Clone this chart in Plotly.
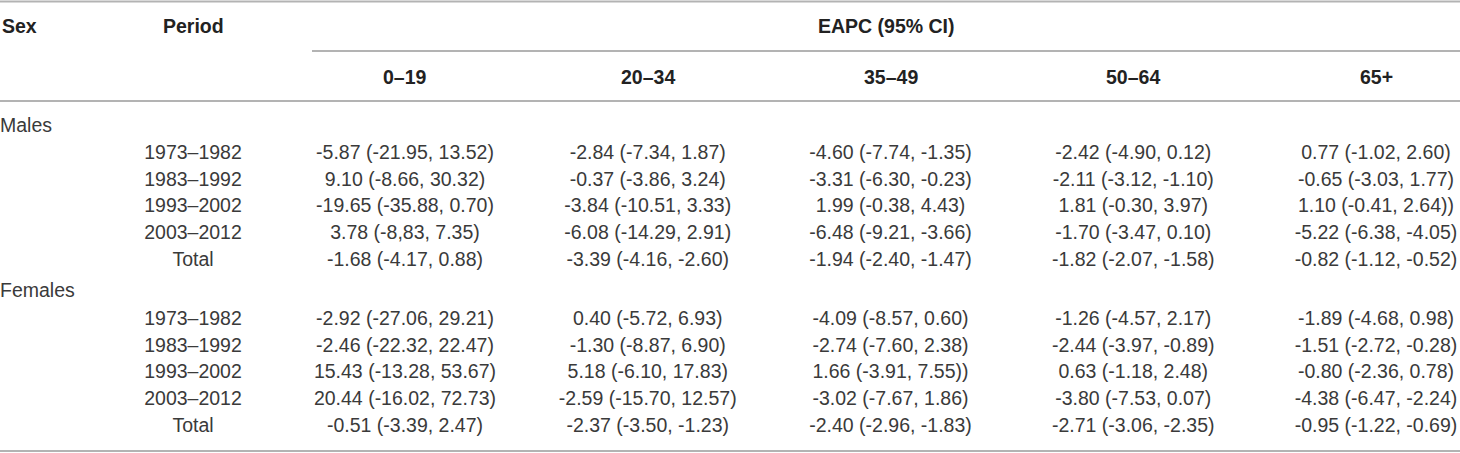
import plotly.graph_objects as go

# ---------------------------------------------------------------
# Table data: EAPC (95% CI) by sex, period and age group
# ---------------------------------------------------------------
sexes = ["Males", "Females"]
periods = ["1973–1982", "1983–1992", "1993–2002", "2003–2012", "Total"]
age_groups = ["0–19", "20–34", "35–49", "50–64", "65+"]

males_0_19 = ["-5.87 (-21.95, 13.52)", "9.10 (-8.66, 30.32)", "-19.65 (-35.88, 0.70)",
              "3.78 (-8,83, 7.35)", "-1.68 (-4.17, 0.88)"]
males_20_34 = ["-2.84 (-7.34, 1.87)", "-0.37 (-3.86, 3.24)", "-3.84 (-10.51, 3.33)",
               "-6.08 (-14.29, 2.91)", "-3.39 (-4.16, -2.60)"]
males_35_49 = ["-4.60 (-7.74, -1.35)", "-3.31 (-6.30, -0.23)", "1.99 (-0.38, 4.43)",
               "-6.48 (-9.21, -3.66)", "-1.94 (-2.40, -1.47)"]
males_50_64 = ["-2.42 (-4.90, 0.12)", "-2.11 (-3.12, -1.10)", "1.81 (-0.30, 3.97)",
               "-1.70 (-3.47, 0.10)", "-1.82 (-2.07, -1.58)"]
males_65 = ["0.77 (-1.02, 2.60)", "-0.65 (-3.03, 1.77)", "1.10 (-0.41, 2.64))",
            "-5.22 (-6.38, -4.05)", "-0.82 (-1.12, -0.52)"]

females_0_19 = ["-2.92 (-27.06, 29.21)", "-2.46 (-22.32, 22.47)", "15.43 (-13.28, 53.67)",
                "20.44 (-16.02, 72.73)", "-0.51 (-3.39, 2.47)"]
females_20_34 = ["0.40 (-5.72, 6.93)", "-1.30 (-8.87, 6.90)", "5.18 (-6.10, 17.83)",
                 "-2.59 (-15.70, 12.57)", "-2.37 (-3.50, -1.23)"]
females_35_49 = ["-4.09 (-8.57, 0.60)", "-2.74 (-7.60, 2.38)", "1.66 (-3.91, 7.55))",
                 "-3.02 (-7.67, 1.86)", "-2.40 (-2.96, -1.83)"]
females_50_64 = ["-1.26 (-4.57, 2.17)", "-2.44 (-3.97, -0.89)", "0.63 (-1.18, 2.48)",
                 "-3.80 (-7.53, 0.07)", "-2.71 (-3.06, -2.35)"]
females_65 = ["-1.89 (-4.68, 0.98)", "-1.51 (-2.72, -0.28)", "-0.80 (-2.36, 0.78)",
              "-4.38 (-6.47, -2.24)", "-0.95 (-1.22, -0.69)"]

male_cols = [males_0_19, males_20_34, males_35_49, males_50_64, males_65]
female_cols = [females_0_19, females_20_34, females_35_49, females_50_64, females_65]

# ---------------------------------------------------------------
# Layout (pixel units, y grows downward)
# ---------------------------------------------------------------
W, H = 1460, 453
FONT = "Liberation Sans, Arial, Helvetica, sans-serif"
TXT = "#3a3a3a"
RULE = "#b3b3b3"
SIZE = 19.5

period_x = 193
col_x0, col_step = 405, 242.75
col_xs = [col_x0 + i * col_step for i in range(len(age_groups))]

sex_y = [127, 292]
block_y0 = [154, 320]
row_step = 26.8

fig = go.Figure()

for s, (sex, cols) in enumerate(zip(sexes, [male_cols, female_cols])):
    ys = [block_y0[s] + i * row_step for i in range(len(periods))]
    fig.add_trace(go.Scatter(
        x=[0], y=[sex_y[s]], text=[sex], mode="text",
        textposition="middle right",
        textfont=dict(family=FONT, size=SIZE, color=TXT),
    ))
    fig.add_trace(go.Scatter(
        x=[period_x] * len(periods), y=ys, text=periods, mode="text",
        textposition="middle center",
        textfont=dict(family=FONT, size=SIZE, color=TXT),
    ))
    for cx, col in zip(col_xs, cols):
        fig.add_trace(go.Scatter(
            x=[cx] * len(col), y=ys, text=col, mode="text",
            textposition="middle center",
            textfont=dict(family=FONT, size=SIZE, color=TXT),
        ))

# header text
hdr_font = dict(family=FONT, size=SIZE, color="#222222")
fig.add_annotation(x=0, y=26, text="<b>Sex</b>", xanchor="left", showarrow=False, font=hdr_font)
fig.add_annotation(x=period_x, y=26, text="<b>Period</b>", showarrow=False, font=hdr_font)
fig.add_annotation(x=(312 + W) / 2, y=26, text="<b>EAPC (95% CI)</b>", showarrow=False, font=hdr_font)
for cx, ag in zip(col_xs, age_groups):
    fig.add_annotation(x=cx, y=77, text=f"<b>{ag}</b>", showarrow=False, font=hdr_font)

# horizontal rules
for x0, y in [(0, 1.5), (312, 51), (0, 101), (0, 451)]:
    fig.add_shape(type="line", x0=x0, x1=W, y0=y, y1=y,
                  line=dict(color=RULE, width=2))

fig.update_layout(
    width=W, height=H,
    margin=dict(l=0, r=0, t=0, b=0),
    paper_bgcolor="white", plot_bgcolor="white",
    showlegend=False, hovermode=False,
    xaxis=dict(range=[0, W], visible=False, fixedrange=True),
    yaxis=dict(range=[H, 0], visible=False, fixedrange=True),
)

fig.write_html(
    "out.html",
    config={"displayModeBar": False, "staticPlot": True},
    post_script="document.body.style.margin='0';",
)
